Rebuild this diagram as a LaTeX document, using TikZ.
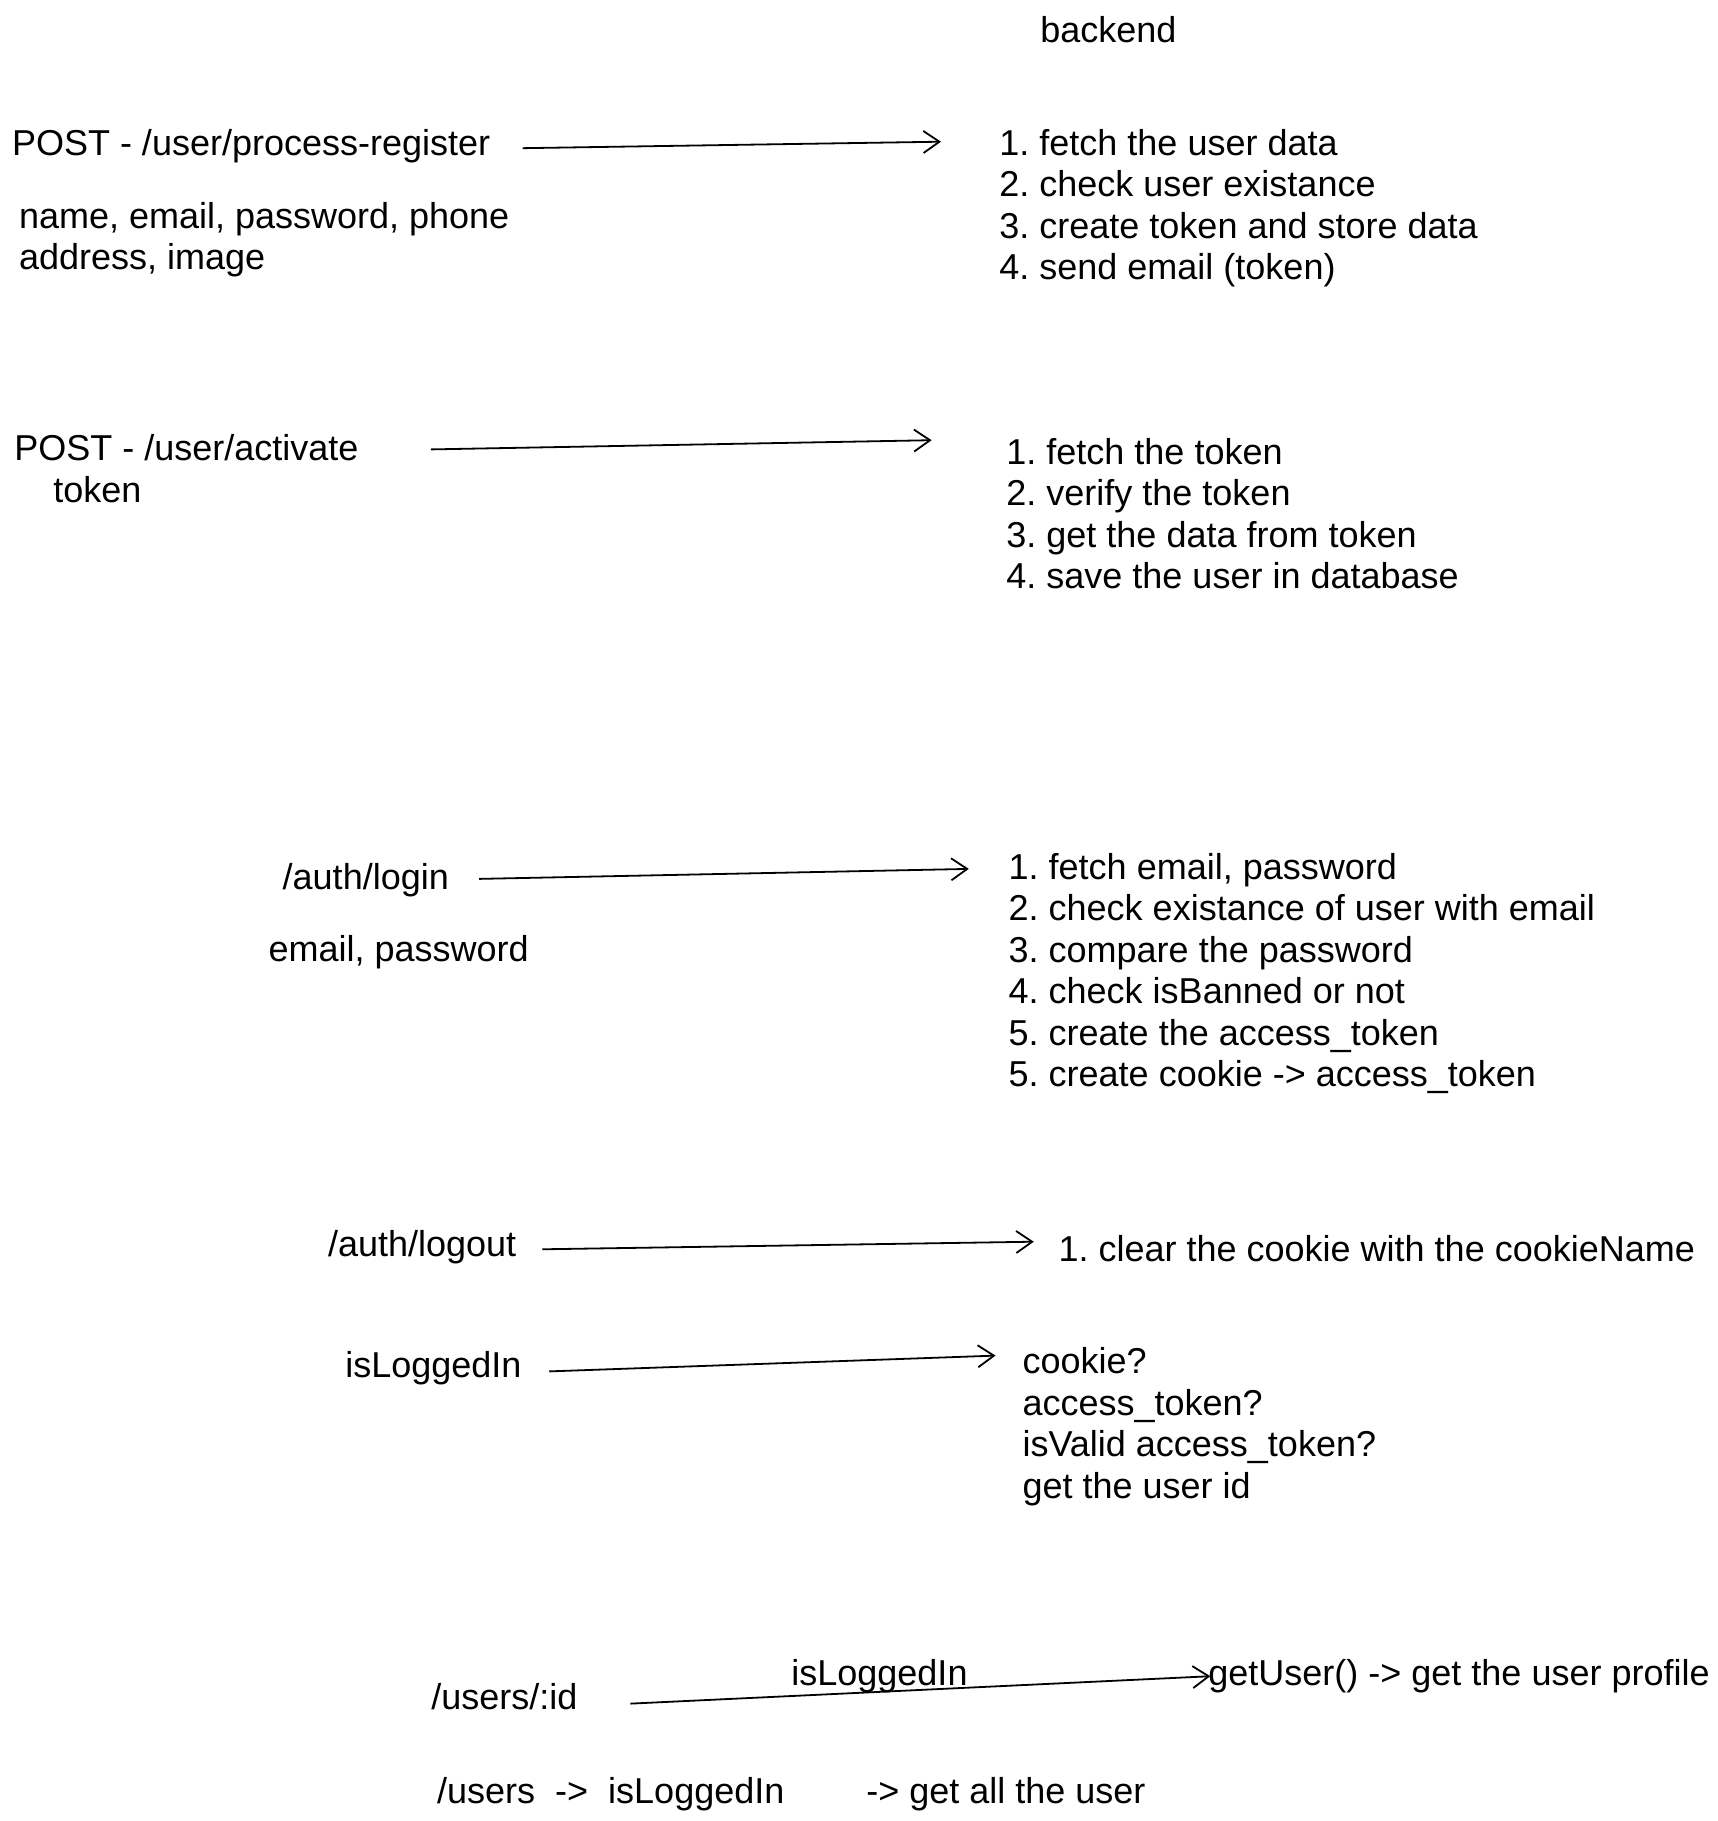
\documentclass[tikz,border=0pt]{standalone}
\usepackage{fontspec}
\setmainfont{Liberation Sans}
\usetikzlibrary{arrows.meta, positioning}
\frenchspacing

\begin{document}
\begin{tikzpicture}[
  x=0.5pt, y=-0.5pt,
  font=\fontsize{18pt}{20.75pt}\selectfont,
  txt/.style={anchor=north west, inner sep=0pt, align=left},
  arr/.style={-{Straight Barb[length=8pt, width=11pt]}, line width=0.9pt},
  ]
\useasboundingbox[fill=white] (0,0) rectangle (1718,1821);
\node[txt] (backend) at (1040,16) {backend};
\node[txt] (reg) at (11.6,129) {POST - /user/process-register};
\node[txt] (regfields) at (18.6,202) {name, email, password, phone\\address, image};
\node[txt] (regsteps) at (999,129) {
  1. fetch the user data\\
  2. check user existance\\
  3. create token and store data\\
  4. send email (token)};
\node[txt] (act) at (14,434.4) {POST - /user/activate\\\hspace{19.5pt}token};
\node[txt] (actsteps) at (1006,438) {
  1. fetch the token\\
  2. verify the token\\
  3. get the data from token\\
  4. save the user in database};
\node[txt] (login) at (282.3,863) {/auth/login};
\node[txt] (loginfields) at (268.3,935) {email, password};
\node[txt] (loginsteps) at (1008.3,852.6) {
  1. fetch email, password\\
  2. check existance of user with email\\
  3. compare the password\\
  4. check isBanned or not\\
  5. create the access\_token\\
  5. create cookie -> access\_token};
\node[txt] (logout) at (327.6,1230) {/auth/logout};
\node[txt] (logoutstep) at (1058.2,1234.6) {1. clear the cookie with the cookieName};
\node[txt] (islog) at (345,1351) {isLoggedIn};
\node[txt] (islogsteps) at (1022.2,1347.4) {
  cookie?\\
  access\_token?\\
  isValid access\_token?\\
  get the user id};
\node[txt] (userid) at (431,1683) {/users/:id};
\node[txt] (islogmid) at (791,1658.7) {isLoggedIn};
\node[txt] (getuser) at (1208,1658.7) {getUser() -> get the user profile};
\node[txt] (users) at (436.8,1777) {/users\hspace{10pt}->\hspace{10pt}isLoggedIn\hspace{41pt}-> get all the user};
\draw[arr] ([shift={(32,2)}]reg.east) -- ([shift={(-58,12.7)}]regsteps.north west);
\draw[arr] ([shift={(72,15)}]act.north east) -- ([shift={(-74.4,2.2)}]actsteps.north west);
\draw[arr] ([shift={(30,-1.3)}]login.east) -- ([shift={(-39.5,16.3)}]loginsteps.north west);
\draw[arr] ([shift={(25.7,2.1)}]logout.east) -- ([shift={(-24.4,7.1)}]logoutstep.north west);
\draw[arr] ([shift={(27.3,3.2)}]islog.east) -- ([shift={(-26.7,8.2)}]islogsteps.north west);
\draw[arr] ([shift={(52.6,7)}]userid.east) -- ([shift={(2.3,17.5)}]getuser.north west);
\end{tikzpicture}
\end{document}
